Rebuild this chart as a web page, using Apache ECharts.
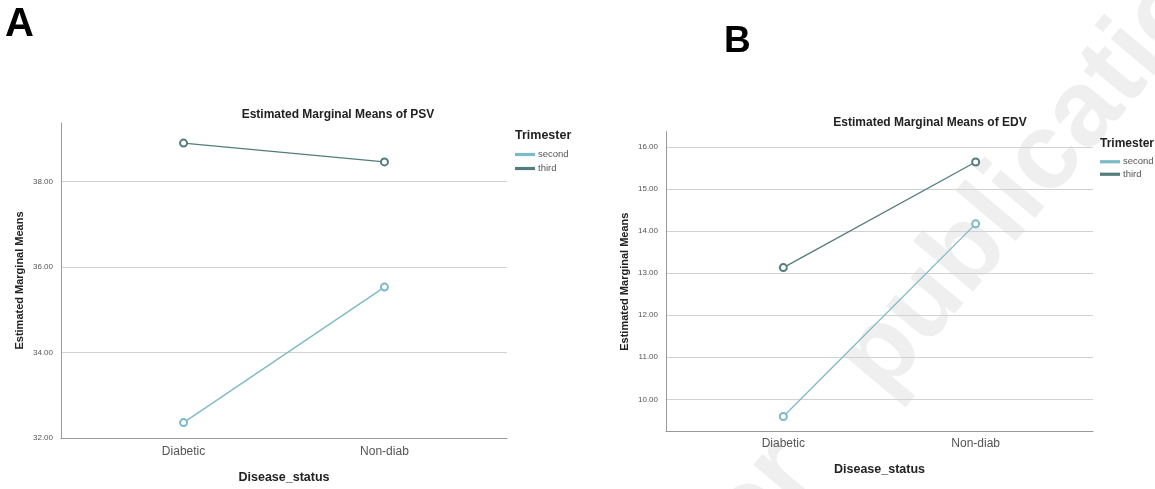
<!DOCTYPE html>
<html>
<head>
<meta charset="utf-8">
<script src="https://cdn.jsdelivr.net/npm/echarts@6/dist/echarts.min.js"></script>
<style>
html,body{margin:0;padding:0;background:#fff;}
#main{width:1155px;height:489px;}
</style>
</head>
<body>
<div id="main"></div>
<script>
// ---- data ----
const categories = ['Diabetic', 'Non-diab'];
const seriesNames = ['second', 'third'];
const psvSecond = [32.36, 35.53];
const psvThird = [38.90, 38.46];
const edvSecond = [9.59, 14.17];
const edvThird = [13.13, 15.64];
const psvTicks = [32, 34, 36, 38];
const edvTicks = [10, 11, 12, 13, 14, 15, 16];
const catPositions = [1, 2];

const FONT = 'Liberation Sans, Arial, sans-serif';
const colSecond = '#7cb9c9';
const colThird = '#537c7d';

function pts(vals) { return vals.map((v, i) => [catPositions[i], v]); }

function xAxisCfg(gridIndex, labelMargin, nameGap) {
  return {
    type: 'value', gridIndex: gridIndex, min: 0.39, max: 2.61,
    axisLine: { show: true, lineStyle: { color: '#9a9a9a', width: 1.2 } },
    axisTick: { show: false, customValues: catPositions },
    splitLine: { show: false },
    axisLabel: {
      customValues: catPositions, margin: labelMargin,
      formatter: v => categories[catPositions.indexOf(v)] || '',
      fontFamily: FONT, fontSize: 12, color: '#555'
    },
    name: 'Disease_status', nameLocation: 'middle', nameGap: nameGap,
    nameTextStyle: { fontFamily: FONT, fontSize: 12.5, fontWeight: 'bold', color: '#222' }
  };
}
function yAxisCfg(gridIndex, min, max, ticks) {
  return {
    type: 'value', gridIndex: gridIndex, min: min, max: max,
    axisLine: { show: true, lineStyle: { color: '#9a9a9a', width: 1 } },
    axisTick: { show: false, customValues: ticks },
    splitLine: { show: true, showMinLine: true, showMaxLine: true, lineStyle: { color: '#d2d2d2', width: 1.2 } },
    axisLabel: {
      customValues: ticks, margin: 8,
      formatter: v => Number(v).toFixed(2),
      fontFamily: FONT, fontSize: 8, color: '#555'
    },
    name: 'Estimated Marginal Means', nameLocation: 'middle', nameGap: 36, nameRotate: 90,
    nameTextStyle: { fontFamily: FONT, fontSize: 11, fontWeight: 'bold', color: '#222' }
  };
}
function lineSeries(name, vals, color, idx) {
  return {
    name: name, type: 'line', xAxisIndex: idx, yAxisIndex: idx,
    data: pts(vals), symbol: 'emptyCircle', symbolSize: 7,
    lineStyle: { color: color, width: 1.3 },
    itemStyle: { color: color, borderColor: color, borderWidth: 1 },
    emphasis: { disabled: true }, animation: false, z: 3
  };
}
function legendCfg(left, top, lh) {
  return {
    orient: 'vertical', left: left, top: top, padding: 0, itemGap: 0,
    data: seriesNames, icon: 'rect', itemWidth: 18, itemHeight: 1.2,
    selectedMode: false,
    textStyle: { fontFamily: FONT, fontSize: 9.5, color: '#555', lineHeight: lh, padding: [0, 0, 0, -1] }
  };
}

const WM_FONT = 'bold 108px "Liberation Sans", Arial, sans-serif';
const chart = echarts.init(document.getElementById('main'), null, { renderer: 'canvas' });
chart.setOption({
  backgroundColor: '#fff',
  animation: false,
  title: [
    { text: 'A', left: 5, top: 5, padding: 0, textStyle: { fontFamily: FONT, fontSize: 40, fontWeight: 'bold', color: '#000' } },
    { text: 'B', left: 724, top: 23, padding: 0, textStyle: { fontFamily: FONT, fontSize: 37, fontWeight: 'bold', color: '#000' } },
    { text: 'Estimated Marginal Means of PSV', left: 338, textAlign: 'center', top: 109, padding: 0,
      textStyle: { fontFamily: FONT, fontSize: 12, fontWeight: 'bold', color: '#222' } },
    { text: 'Estimated Marginal Means of EDV', left: 930, textAlign: 'center', top: 117, padding: 0,
      textStyle: { fontFamily: FONT, fontSize: 12, fontWeight: 'bold', color: '#222' } },
    { text: 'Trimester', left: 515, top: 129, padding: 0,
      textStyle: { fontFamily: FONT, fontSize: 12.5, fontWeight: 'bold', color: '#222' } },
    { text: 'Trimester', left: 1100, top: 138, padding: 0,
      textStyle: { fontFamily: FONT, fontSize: 12, fontWeight: 'bold', color: '#222' } }
  ],
  legend: [legendCfg(515, 147.5, 14), legendCfg(1100, 155.5, 12.5)],
  grid: [
    { left: 61, right: 648, top: 123, bottom: 51, containLabel: false },
    { left: 666, right: 62, top: 131.7, bottom: 57.3, containLabel: false }
  ],
  xAxis: [xAxisCfg(0, 8, 33), xAxisCfg(1, 6, 31)],
  yAxis: [yAxisCfg(0, 32, 39.37, psvTicks), yAxisCfg(1, 9.23, 16.36, edvTicks)],
  series: [
    lineSeries('second', psvSecond, colSecond, 0),
    lineSeries('third', psvThird, colThird, 0),
    lineSeries('second', edvSecond, colSecond, 1),
    lineSeries('third', edvThird, colThird, 1)
  ],
  graphic: [{
    type: 'group', x: 902, y: 414, rotation: 50 * Math.PI / 180, z: -10, silent: true,
    children: [
      { type: 'text', z: -10, style: { text: 'publication', x: 0, y: 0, font: WM_FONT, fill: '#efefef', align: 'left', verticalAlign: 'bottom' } },
      { type: 'text', z: -10, style: { text: 'Accepted for', x: -100, y: 0, font: WM_FONT, fill: '#efefef', align: 'right', verticalAlign: 'bottom' } }
    ]
  }]
});
</script>
</body>
</html>
